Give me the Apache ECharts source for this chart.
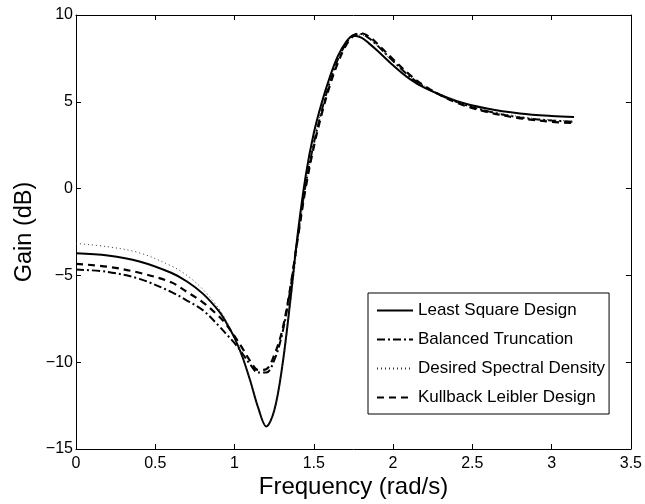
<!DOCTYPE html>
<html>
<head>
<meta charset="utf-8">
<script src="https://cdn.jsdelivr.net/npm/echarts@6/dist/echarts.min.js"></script>
<style>
html,body{margin:0;padding:0;background:#fff;}
#chart{width:645px;height:504px;}
</style>
</head>
<body>
<div id="chart"></div>
<script>
const freq = [0, 0.2, 0.4, 0.6, 0.7, 0.8, 0.9, 0.95, 1.0, 1.05, 1.1, 1.15, 1.2, 1.25, 1.3, 1.35, 1.4, 1.45, 1.5, 1.55, 1.6, 1.65, 1.7, 1.75, 1.8, 1.85, 1.9, 2.0, 2.1, 2.2, 2.4, 2.6, 2.8, 3.0, 3.1416];
const leastSquare = [-3.73, -3.86, -4.2, -4.85, -5.35, -6.05, -7.05, -7.75, -8.6, -9.7, -11.1, -12.65, -13.7, -12.8, -10.3, -6.6, -2.5, 0.8, 3.2, 4.95, 6.4, 7.6, 8.4, 8.8, 8.7, 8.35, 7.95, 7.1, 6.35, 5.8, 5.05, 4.6, 4.33, 4.18, 4.12];
const balancedTrunc = [-4.66, -4.8, -5.2, -5.95, -6.45, -7.0, -7.9, -8.4, -8.9, -9.5, -10.15, -10.6, -10.6, -9.9, -8.4, -5.9, -2.7, 0.3, 2.6, 4.5, 6.1, 7.4, 8.3, 8.85, 8.9, 8.65, 8.25, 7.35, 6.5, 5.85, 5.0, 4.45, 4.1, 3.92, 3.85];
const desiredSpectral = [-3.16, -3.35, -3.7, -4.45, -5.0, -5.8, -6.9, -7.65, -8.55, -9.7, -11.1, -12.65, -13.65, -12.8, -10.4, -6.9, -3.0, 0.3, 2.7, 4.6, 6.2, 7.5, 8.35, 8.8, 8.85, 8.6, 8.2, 7.3, 6.5, 5.9, 5.05, 4.5, 4.15, 3.95, 3.88];
const kullbackLeibler = [-4.34, -4.5, -4.85, -5.4, -5.95, -6.55, -7.35, -7.85, -8.5, -9.2, -9.95, -10.45, -10.4, -9.6, -8.2, -5.8, -2.8, 0.1, 2.4, 4.3, 5.9, 7.2, 8.2, 8.8, 8.95, 8.75, 8.35, 7.45, 6.6, 5.9, 4.95, 4.4, 4.05, 3.85, 3.77];
const seriesNames = ['Least Square Design', 'Balanced Truncation', 'Desired Spectral Density', 'Kullback Leibler Design'];
const xTicks = { min: 0, max: 3.5, interval: 0.5 };
const yTicks = { min: -15, max: 10, interval: 5 };

const FONT = '"Liberation Sans", Arial, Helvetica, sans-serif';
const pair = vals => freq.map((f, i) => [f, vals[i]]);
const fmtNum = v => String(v).replace('-', '\u2212');

const chart = echarts.init(document.getElementById('chart'), null, { renderer: 'canvas' });
const axisCommon = {
  type: 'value',
  axisLine: { show: true, onZero: false, lineStyle: { color: '#000', width: 1 } },
  axisTick: { show: true, inside: true, length: 5, lineStyle: { color: '#000', width: 1 } },
  splitLine: { show: false }
};
const mkSeries = (name, vals, lineStyle) => ({
  name, type: 'line', xAxisIndex: 0, yAxisIndex: 0,
  data: pair(vals), showSymbol: false, symbol: 'none',
  smooth: 0.35,
  lineStyle, itemStyle: { color: lineStyle.color }, animation: false
});

chart.setOption({
  animation: false,
  backgroundColor: '#fff',
  textStyle: { fontFamily: FONT },
  grid: { left: 76, right: 14, top: 15, bottom: 52 },
  xAxis: [
    Object.assign({}, axisCommon, {
      position: 'bottom', min: xTicks.min, max: xTicks.max, interval: xTicks.interval,
      name: 'Frequency (rad/s)', nameLocation: 'middle', nameGap: 26, nameMoveOverlap: false,
      nameTextStyle: { fontSize: 24, color: '#000', fontFamily: FONT },
      axisLabel: { fontSize: 16, color: '#000', margin: 7, fontFamily: FONT, formatter: fmtNum }
    }),
    Object.assign({}, axisCommon, {
      position: 'top', min: xTicks.min, max: xTicks.max, interval: xTicks.interval,
      axisLabel: { show: false }
    })
  ],
  yAxis: [
    Object.assign({}, axisCommon, {
      position: 'left', min: yTicks.min, max: yTicks.max, interval: yTicks.interval,
      name: 'Gain (dB)', nameLocation: 'middle', nameGap: 39, nameMoveOverlap: false,
      nameTextStyle: { fontSize: 23.5, color: '#000', fontFamily: FONT },
      axisLabel: { fontSize: 16, color: '#000', margin: 3, fontFamily: FONT, formatter: fmtNum }
    }),
    Object.assign({}, axisCommon, {
      position: 'right', min: yTicks.min, max: yTicks.max, interval: yTicks.interval,
      axisLabel: { show: false }
    })
  ],
  legend: {
    show: true,
    orient: 'vertical', left: 368, top: 293,
    padding: [9, 4, 8, 8],
    itemWidth: 36, itemHeight: 10, itemGap: 12,
    itemStyle: { opacity: 0 },
    backgroundColor: '#fff', borderColor: '#000', borderWidth: 1, borderRadius: 0,
    textStyle: { fontSize: 17, color: '#000', fontFamily: FONT, lineHeight: 17 },
    data: seriesNames
  },
  series: [
    mkSeries(seriesNames[0], leastSquare, { color: '#000', width: 2, type: 'solid' }),
    mkSeries(seriesNames[1], balancedTrunc, { color: '#000', width: 2, type: [8, 3, 2, 3] }),
    mkSeries(seriesNames[2], desiredSpectral, { color: '#333', width: 1, type: [1, 3] }),
    mkSeries(seriesNames[3], kullbackLeibler, { color: '#000', width: 2.2, type: [7, 5] })
  ]
});
</script>
</body>
</html>
